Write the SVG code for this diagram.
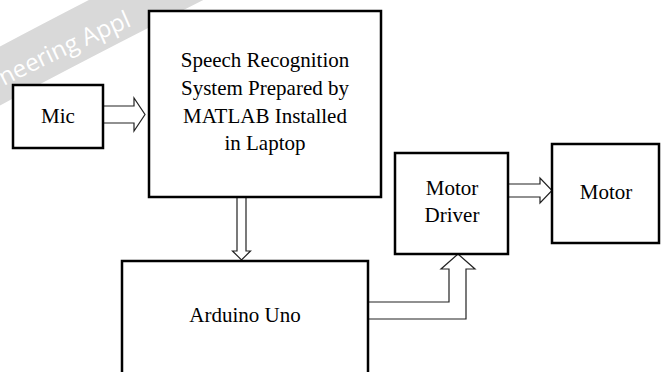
<svg xmlns="http://www.w3.org/2000/svg" width="665" height="372" viewBox="0 0 665 372">
  <style>
    .box { fill: #ffffff; stroke: #000000; stroke-width: 2.5; }
    .lbl { font-family: "Liberation Serif", "Times New Roman", serif; font-size: 21px; fill: #000000; text-anchor: middle; }
    .arr { fill: #ffffff; stroke: #222222; stroke-width: 1.2; stroke-linejoin: miter; }
    .wm { font-family: "Open Sans", "DejaVu Sans", sans-serif; font-size: 24px; fill: #ffffff; }
  </style>
  <rect width="665" height="372" fill="#ffffff"/>
  <g id="watermark">
    <path d="M -30,92 Q 70,38 205,-30" fill="none" stroke="#d9d9d9" stroke-width="52"/>
    <path id="wmPath" d="M 4,86 Q 62,56 145,20" fill="none"/>
    <text class="wm"><textPath href="#wmPath">neering Appl</textPath></text>
  </g>
  <g id="connectors">
    <polygon class="arr" points="103,106 134,106 134,98 145,114.5 134,131 134,123 103,123"/>
    <polygon class="arr" points="237,197 237,251 232.5,251 241.5,260 250.5,251 246,251 246,197"/>
    <polygon class="arr" points="508,184 540,184 540,178 552,190.5 540,203 540,197 508,197"/>
    <polygon class="arr" points="368,302 449,302 449,269 441,269 458,254 475,269 466,269 466,319 368,319"/>
  </g>
  <g id="mic">
    <rect class="box" x="13" y="85" width="90" height="63"/>
    <text class="lbl" x="58" y="123">Mic</text>
  </g>
  <g id="speech">
    <rect class="box" x="149" y="11" width="232" height="186"/>
    <text class="lbl" x="265" y="67">Speech Recognition</text>
    <text class="lbl" x="265" y="95">System Prepared by</text>
    <text class="lbl" x="265" y="123">MATLAB Installed</text>
    <text class="lbl" x="265" y="150">in Laptop</text>
  </g>
  <g id="arduino">
    <rect class="box" x="122" y="261" width="246" height="120"/>
    <text class="lbl" x="245" y="322">Arduino Uno</text>
  </g>
  <g id="driver">
    <rect class="box" x="395" y="153" width="113" height="101"/>
    <text class="lbl" x="452" y="195">Motor</text>
    <text class="lbl" x="452" y="222">Driver</text>
  </g>
  <g id="motor">
    <rect class="box" x="552" y="144" width="107" height="99"/>
    <text class="lbl" x="606" y="199">Motor</text>
  </g>
</svg>
